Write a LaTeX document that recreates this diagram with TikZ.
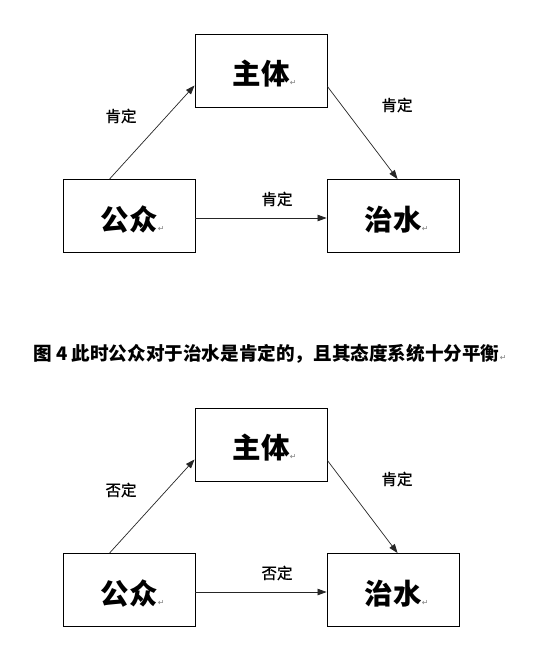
\documentclass[tikz,border=0pt]{standalone}
\usepackage{fontspec}
\newfontfamily\cjk{Noto Sans CJK SC}
\newfontfamily\cjkm{Noto Sans CJK SC}[FakeBold=1]
\newfontfamily\symf{DejaVu Sans}
\usetikzlibrary{arrows.meta}
\newcommand\retmk{{\symf\fontsize{8}{8}\selectfont\textcolor{gray}{↵}}}
\tikzset{
  box/.style={draw=black,line width=0.9pt,minimum width=132pt,minimum height=73pt,inner sep=0pt},
  bigtxt/.style={font=\cjk\bfseries\fontsize{28.5}{28.5}\selectfont,inner sep=0pt},
  ret/.style={inner sep=0pt,anchor=south west},
  lbl/.style={font=\cjkm\fontsize{15.5}{16}\selectfont,inner sep=0pt},
  arr/.style={-{Triangle[length=9pt,width=6.5pt]},line width=0.7pt,draw=black!85},
  captxt/.style={font=\cjk\bfseries\fontsize{18.6}{18.6}\selectfont,inner sep=0pt,anchor=west}
}
\newcommand\tridiagram[3]{%
  \node[box] (zt) at (261,70.5) {};
  \node[box] (gz) at (129,216) {};
  \node[box] (zs) at (393,216) {};
  \node[bigtxt] (ztt) at (261,74) {主体};
  \node[bigtxt] (gzt) at (129,220) {公众};
  \node[bigtxt] (zst) at (393,220) {治水};
  \node[ret] (ztr) at ([yshift=-12pt]ztt.east) {\retmk};
  \node[ret] (gzr) at ([yshift=-12pt]gzt.east) {\retmk};
  \node[ret] (zsr) at ([yshift=-12pt]zst.east) {\retmk};
  \draw[arr] ([xshift=47pt]gz.north west) -- ([yshift=-15pt]zt.west);
  \draw[arr] ([yshift=-16pt]zt.east) -- ([xshift=71pt]zs.north west);
  \draw[arr] ([yshift=-2pt]gz.east) -- ([yshift=-2pt]zs.west);
  \node[lbl] (l1) at (121,116) {#1};
  \node[lbl] (l2) at (397,105) {#2};
  \node[lbl] (l3) at (277,199) {#3};
}
\begin{document}
\begin{tikzpicture}[x=1pt,y=-1pt]
\useasboundingbox[fill=white] (0,0) rectangle (541,651);
\begin{scope}[name prefix=a-]
\tridiagram{肯定}{肯定}{肯定}
\end{scope}
\begin{scope}[name prefix=b-,yshift=-374pt]
\tridiagram{否定}{肯定}{否定}
\end{scope}
\node[captxt] (caption) at (33,354) {图 4 此时公众对于治水是肯定的，且其态度系统十分平衡};
\node[ret] (capr) at ([yshift=-7pt]caption.east) {\retmk};
\end{tikzpicture}
\end{document}
